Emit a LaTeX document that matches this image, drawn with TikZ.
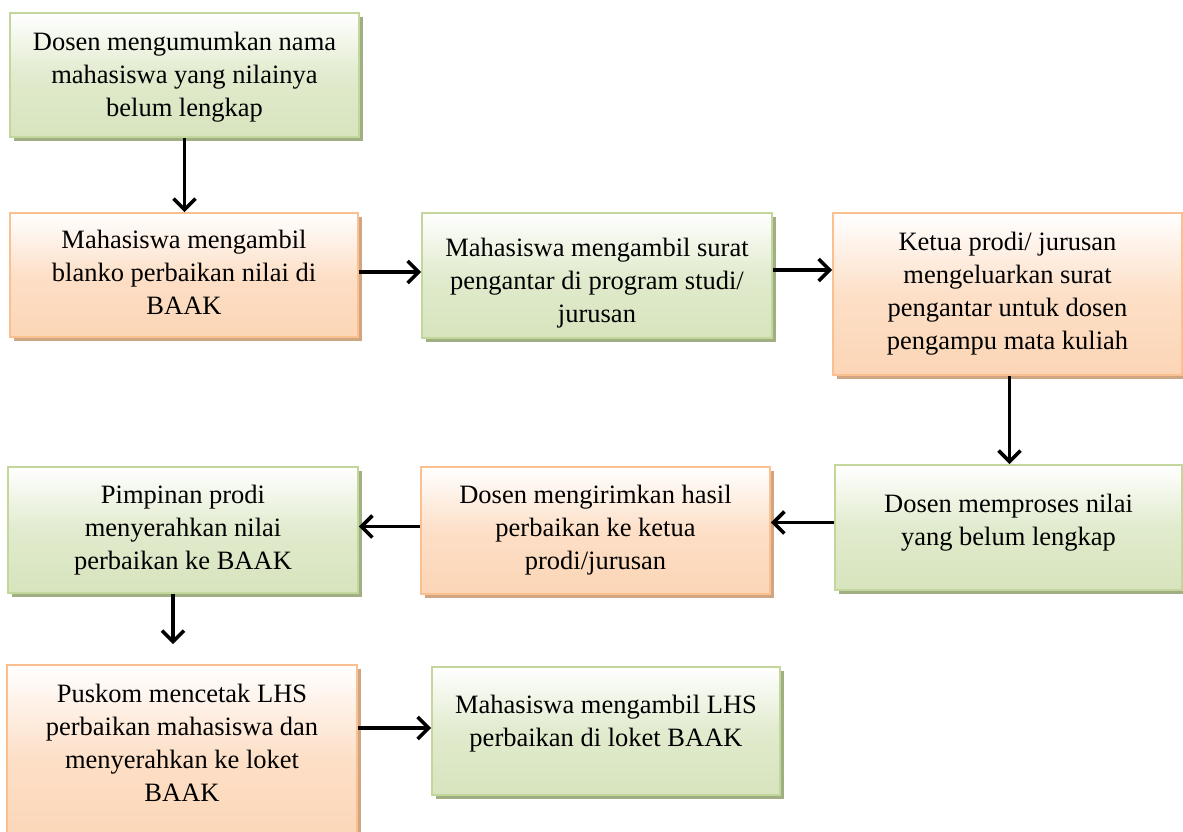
\documentclass[tikz,border=0pt]{standalone}
\usepackage{fontspec}
\setmainfont{Liberation Serif}
\usepackage{xcolor}
\usetikzlibrary{arrows.meta, shadows}

\definecolor{greenline}{RGB}{195,214,155}
\definecolor{greenfill}{RGB}{215,228,189}
\definecolor{greenshade}{RGB}{160,175,130}
\definecolor{peachline}{RGB}{250,192,144}
\definecolor{peachfill}{RGB}{252,213,181}
\definecolor{peachshade}{RGB}{208,165,130}

% box body: height, width, top padding, lines
\newcommand{\steptext}[4]{\parbox[c][#1][t]{#2}{\vspace*{#3}\centering #4\par}}

\tikzset{
    flowbox/.style={rectangle, inner sep=0pt, line width=1.8pt, font=\fontsize{26.5}{33}\selectfont},
    greenbox/.style={flowbox, draw=greenline, top color=white, bottom color=greenfill, middle color=greenfill!75!white,
        general shadow={fill=greenshade, shadow xshift=4pt, shadow yshift=-4pt}},
    peachbox/.style={flowbox, draw=peachline, top color=white, bottom color=peachfill, middle color=peachfill!75!white,
        general shadow={fill=peachshade, shadow xshift=4pt, shadow yshift=-4pt}},
    flowarrow/.style={line width=3.6pt, -{Straight Barb[length=11pt, width=22pt]}}
}

\begin{document}
\begin{tikzpicture}[x=1pt, y=-1pt]
    \useasboundingbox (0,0) rectangle (1183,832);

    % First row
    \node[greenbox] (announce) at (184.5,75) {\steptext{124pt}{349pt}{19pt}{Dosen mengumumkan nama\\ mahasiswa yang nilainya\\ belum lengkap}};
    \node[peachbox] (blanko) at (184,275) {\steptext{124pt}{348pt}{17pt}{Mahasiswa mengambil\\ blanko perbaikan nilai di\\ BAAK}};
    \node[greenbox] (letter) at (597,275.5) {\steptext{125pt}{350pt}{25pt}{Mahasiswa mengambil surat\\ pengantar di program studi/\\ jurusan}};
    \node[peachbox] (head) at (1007.5,294) {\steptext{162pt}{349pt}{19pt}{Ketua prodi/ jurusan\\ mengeluarkan surat\\ pengantar untuk dosen\\ pengampu mata kuliah}};

    % Second row
    \node[greenbox] (process) at (1008.5,527.5) {\steptext{125pt}{347pt}{29pt}{Dosen memproses nilai\\ yang belum lengkap}};
    \node[peachbox] (send) at (595.5,530.5) {\steptext{127pt}{349pt}{18pt}{Dosen mengirimkan hasil\\ perbaikan ke ketua\\ prodi/jurusan}};
    \node[greenbox] (chief) at (183,530) {\steptext{126pt}{350pt}{18pt}{Pimpinan prodi\\ menyerahkan nilai\\ perbaikan ke BAAK}};

    % Third row
    \node[peachbox] (print) at (182,757.5) {\steptext{185pt}{350pt}{19pt}{Puskom mencetak LHS\\ perbaikan mahasiswa dan\\ menyerahkan ke loket\\ BAAK}};
    \node[greenbox] (collect) at (606,731) {\steptext{128pt}{348pt}{28pt}{Mahasiswa mengambil LHS\\ perbaikan di loket BAAK}};
    \coordinate (printtop) at ([xshift=-9pt, yshift=20pt]print.north);

    % Arrows
    \draw[flowarrow] (announce.south) -- (announce.south |- blanko.north);
    \draw[flowarrow] ([yshift=3pt]blanko.east) -- ([yshift=3pt]blanko.east -| letter.west);
    \draw[flowarrow] ([yshift=5.5pt]letter.east) -- ([yshift=5.5pt]letter.east -| head.west);
    \draw[flowarrow] ([xshift=2pt]head.south) -- ([xshift=2pt]head.south |- process.north);
    \draw[flowarrow] ([yshift=5pt]process.west) -- ([yshift=5pt]process.west -| send.east);
    \draw[flowarrow] ([yshift=4pt]send.west) -- ([yshift=4pt]send.west -| chief.east);
    \draw[flowarrow] (printtop |- chief.south) -- (printtop);
    \draw[flowarrow] ([yshift=3pt]collect.west -| print.east) -- ([yshift=3pt]collect.west);
\end{tikzpicture}
\end{document}
